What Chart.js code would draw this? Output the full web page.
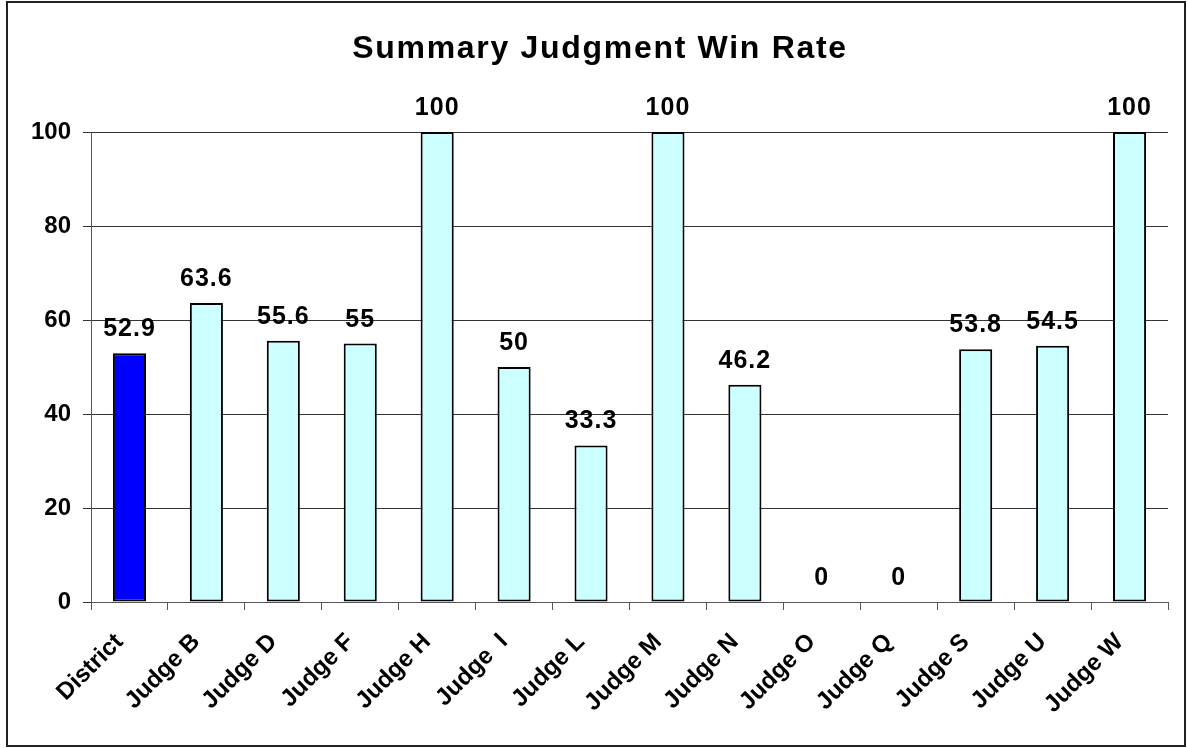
<!DOCTYPE html>
<html>
<head>
<meta charset="utf-8">
<script src="https://cdn.jsdelivr.net/npm/chart.js@4.4.0/dist/chart.umd.min.js"></script>
<style>
  body { margin: 0; background: #fff; }
  #box { width: 1187px; height: 748px; }
</style>
</head>
<body>
<div id="box"><canvas id="graf" width="1187" height="748"></canvas></div>
<script>
// data
const juges = ['District', 'Judge B', 'Judge D', 'Judge F', 'Judge H', 'Judge  I', 'Judge L',
               'Judge M', 'Judge N', 'Judge O', 'Judge Q', 'Judge S', 'Judge U', 'Judge W'];
const winRate = [52.9, 63.6, 55.6, 55, 100, 50, 33.3, 100, 46.2, 0, 0, 53.8, 54.5, 100];
const yTicks = [0, 20, 40, 60, 80, 100];
const titre = 'Summary Judgment Win Rate';

const couleurs = juges.map((j, i) => i === 0 ? '#0000ff' : '#ccffff');
const police = '"Liberation Sans", Arial, sans-serif';

// frame + title + value labels, excel style
const deco = {
  id: 'deco',
  beforeDraw(chart) {
    const ctx = chart.ctx;
    ctx.save();
    ctx.fillStyle = '#fff';
    ctx.fillRect(0, 0, chart.width, chart.height);
    ctx.strokeStyle = '#222';
    ctx.lineWidth = 2;
    ctx.strokeRect(7, 2, 1178, 744);
    ctx.fillStyle = '#000';
    ctx.font = 'bold 32px ' + police;
    ctx.letterSpacing = '1.7px';
    ctx.textAlign = 'center';
    ctx.textBaseline = 'alphabetic';
    ctx.fillText(titre, 600, 58);
    ctx.restore();
  },
  afterDatasetsDraw(chart) {
    const ctx = chart.ctx;
    const meta = chart.getDatasetMeta(0);
    ctx.save();
    ctx.fillStyle = '#000';
    ctx.font = 'bold 25px ' + police;
    ctx.letterSpacing = '1px';
    ctx.textAlign = 'center';
    ctx.textBaseline = 'alphabetic';
    meta.data.forEach((bar, i) => {
      ctx.fillText(String(winRate[i]), bar.x, bar.y - 17);
    });
    ctx.restore();
  }
};

const data = {
  labels: juges,
  datasets: [{
    label: 'Win rate',
    data: winRate,
    backgroundColor: couleurs,
    borderColor: '#000',
    borderWidth: 2,
    borderSkipped: false,
    categoryPercentage: 1,
    barPercentage: 0.43
  }]
};

const config = {
  type: 'bar',
  data: data,
  options: {
    responsive: false,
    animation: false,
    layout: { padding: { left: 9, right: 19, top: 132, bottom: 0 } },
    plugins: {
      legend: { display: false },
      title: { display: false },
      tooltip: { enabled: false }
    },
    scales: {
      x: {
        afterFit(s) { s.height = 146; },
        grid: { offset: true, drawOnChartArea: false, drawTicks: true, tickLength: 8, color: '#555' },
        border: { display: true, color: '#555' },
        ticks: {
          autoSkip: false,
          minRotation: 45,
          maxRotation: 45,
          padding: 18,
          labelOffset: -10,
          color: '#000',
          font: { family: police, size: 24, weight: 'bold' }
        }
      },
      y: {
        min: 0,
        max: 100,
        afterFit(s) { s.width = 82; },
        afterBuildTicks(s) { s.ticks = yTicks.map(v => ({ value: v })); },
        grid: { color: '#333', tickLength: 8 },
        border: { display: true, color: '#555' },
        ticks: {
          padding: 12,
          color: '#000',
          font: { family: police, size: 24, weight: 'bold' }
        }
      }
    }
  },
  plugins: [deco]
};

const ctx = document.querySelector('#graf').getContext('2d');
const graf = new Chart(ctx, config);
</script>
</body>
</html>
